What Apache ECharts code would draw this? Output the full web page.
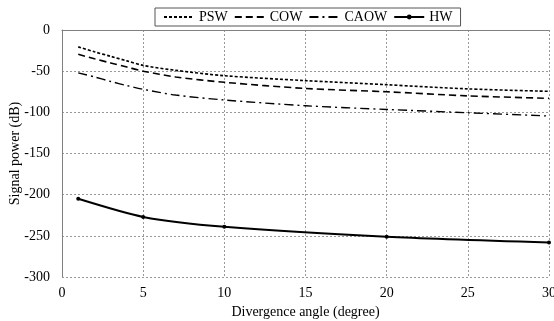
<!DOCTYPE html>
<html>
<head>
<meta charset="utf-8">
<script src="https://cdn.jsdelivr.net/npm/echarts@6/dist/echarts.min.js"></script>
<style>html,body{margin:0;padding:0;background:#fff}#c{width:554px;height:321px}</style>
</head>
<body>
<div id="c"></div>
<script>
const angles = [1, 2, 3, 4, 5, 7, 10, 15, 20, 25, 30];
const psw  = [-20.5, -26.5, -32, -37.5, -43, -49, -55.5, -61.5, -66.5, -71.5, -74.5];
const cow  = [-29.5, -35, -40, -45, -50, -57, -63.5, -71, -75, -80, -83];
const caow = [-52, -57, -62.5, -67.5, -72, -79, -85, -92, -96.5, -100.5, -104.5];
const hwAngles = [1, 5, 10, 20, 30];
const hw = [-205, -227, -239, -251, -258];
const seriesNames = ['PSW', 'COW', 'CAOW', 'HW'];

const zip = (xs, ys) => xs.map((x, i) => [x, ys[i]]);
const font = 'Liberation Serif';
const chart = echarts.init(document.getElementById('c'));
chart.setOption({
  animation: false,
  backgroundColor: '#fff',
  grid: { left: 62, right: 5, top: 30, bottom: 44, outerBoundsMode: 'none', containLabel: false },
  legend: {
    data: seriesNames.map((n, i) => i < 3 ? { name: n, itemStyle: { opacity: 0 } } : { name: n }),
    left: 155, top: 8,
    padding: [2, 8, 2, 8],
    itemGap: 6,
    itemWidth: 30, itemHeight: 6,
    borderColor: '#555', borderWidth: 1,
    textStyle: { fontFamily: font, fontSize: 14, color: '#000', padding: [2, 0, 0, 0] }
  },
  xAxis: {
    type: 'value', min: 0, max: 30, interval: 5,
    name: 'Divergence angle (degree)', nameLocation: 'middle', nameGap: 28, nameMoveOverlap: false,
    nameTextStyle: { fontFamily: font, fontSize: 14, color: '#000' },
    axisLine: { lineStyle: { color: '#808080', width: 1 } },
    axisTick: { show: false },
    axisLabel: { fontFamily: font, fontSize: 14, color: '#000', margin: 9 },
    splitLine: { lineStyle: { color: '#999', type: [2, 2], width: 1 } }
  },
  yAxis: {
    type: 'value', min: -300, max: 0, interval: 50,
    name: 'Signal power (dB)', nameLocation: 'middle', nameGap: 40, nameMoveOverlap: false,
    nameTextStyle: { fontFamily: font, fontSize: 14, color: '#000' },
    axisLine: { show: true, lineStyle: { color: '#808080', width: 1 } },
    axisTick: { show: false },
    axisLabel: { fontFamily: font, fontSize: 14, color: '#000', margin: 12 },
    splitLine: { lineStyle: { color: '#999', type: [2, 2], width: 1 } }
  },
  series: [
    { name: 'PSW', type: 'line', smooth: 0.3, showSymbol: false, symbol: 'none', data: zip(angles, psw),
      lineStyle: { color: '#000', width: 1.6, type: [3, 2] }, itemStyle: { color: '#000' } },
    { name: 'COW', type: 'line', smooth: 0.3, showSymbol: false, symbol: 'none', data: zip(angles, cow),
      lineStyle: { color: '#000', width: 1.6, type: [7, 4] }, itemStyle: { color: '#000' } },
    { name: 'CAOW', type: 'line', smooth: 0.3, showSymbol: false, symbol: 'none', data: zip(angles, caow),
      lineStyle: { color: '#000', width: 1.4, type: [9, 4, 2, 4] }, itemStyle: { color: '#000' } },
    { name: 'HW', type: 'line', smooth: 0.25, symbol: 'circle', symbolSize: 4, data: zip(hwAngles, hw),
      lineStyle: { color: '#000', width: 2 }, itemStyle: { color: '#000' } }
  ]
});
</script>
</body>
</html>
